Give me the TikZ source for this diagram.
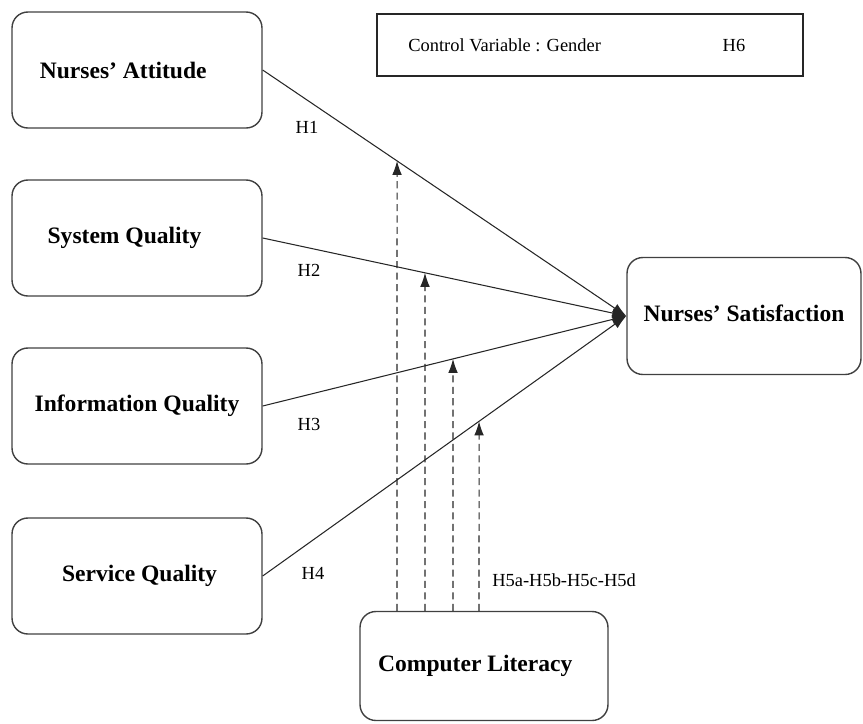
\documentclass[tikz,border=0pt]{standalone}
\usepackage{fontspec}
\setmainfont{Liberation Serif}
\usetikzlibrary{arrows.meta}

\begin{document}
\begin{tikzpicture}[x=0.02cm, y=-0.02cm,
    varbox/.style={draw=black!75, line width=0.8pt, rounded corners=9pt,
        minimum width=5cm, minimum height=2.32cm, inner sep=0pt,
        font=\fontsize{13.4}{15}\selectfont\bfseries},
    hyparrow/.style={draw=black!85, line width=0.6pt, -{Latex[length=8pt,width=5.5pt]}},
    modarrow/.style={draw=black!85, line width=0.6pt, dash pattern=on 4pt off 2.5pt, -{Latex[length=8pt,width=5.5pt]}},
    hlabel/.style={inner sep=0pt, font=\fontsize{10.5}{12}\selectfont}]

    \useasboundingbox (0,0) rectangle (863,724);

    % Independent variables
    \node[varbox] (na) at (137,70) {\raisebox{-0.1cm}{Nurses' Attitude}\rule{0.55cm}{0pt}};
    \node[varbox] (sq) at (137,238) {System Quality\rule{0.5cm}{0pt}};
    \node[varbox] (iq) at (137,406) {Information Quality};
    \node[varbox] (svq) at (137,576) {\rule{0.1cm}{0pt}Service Quality};

    % Dependent variable
    \node[varbox, minimum width=4.68cm, minimum height=2.34cm] (ns) at (744,316) {\raisebox{0.1cm}{Nurses' Satisfaction}};

    % Moderator
    \node[varbox, minimum width=4.96cm, minimum height=2.18cm] (cl) at (484,666) {Computer Literacy\rule{0.35cm}{0pt}};

    % Control variable
    \node[draw=black!85, line width=0.8pt, minimum width=8.52cm, minimum height=1.24cm] (ctrl) at (590,45) {};
    \node[hlabel, anchor=west] (gender) at (408,45) {Control Variable : Gender};
    \node[hlabel] (h6) at (734,45) {H6};

    % Direct effects
    \draw[hyparrow] (na.east) -- (ns.west);
    \draw[hyparrow] (sq.east) -- (ns.west);
    \draw[hyparrow] (iq.east) -- (ns.west);
    \draw[hyparrow] (svq.east) -- (ns.west);

    % Moderating effects
    \foreach \x/\src [count=\i] in {397/na,425/sq,453/iq,479/svq}{
        \coordinate (up\i) at (\x,0);
        \coordinate (low\i) at (cl.north -| up\i);
        \draw[modarrow] (low\i) -- (intersection of \src.east--ns.west and low\i--up\i);
    }

    % Hypothesis labels
    \node[hlabel] (h1) at (307,127) {H1};
    \node[hlabel] (h2) at (309,270) {H2};
    \node[hlabel] (h3) at (309,424) {H3};
    \node[hlabel] (h4) at (313,573) {H4};
    \node[hlabel, anchor=west] (h5) at (492,580) {H5a-H5b-H5c-H5d};
\end{tikzpicture}
\end{document}
